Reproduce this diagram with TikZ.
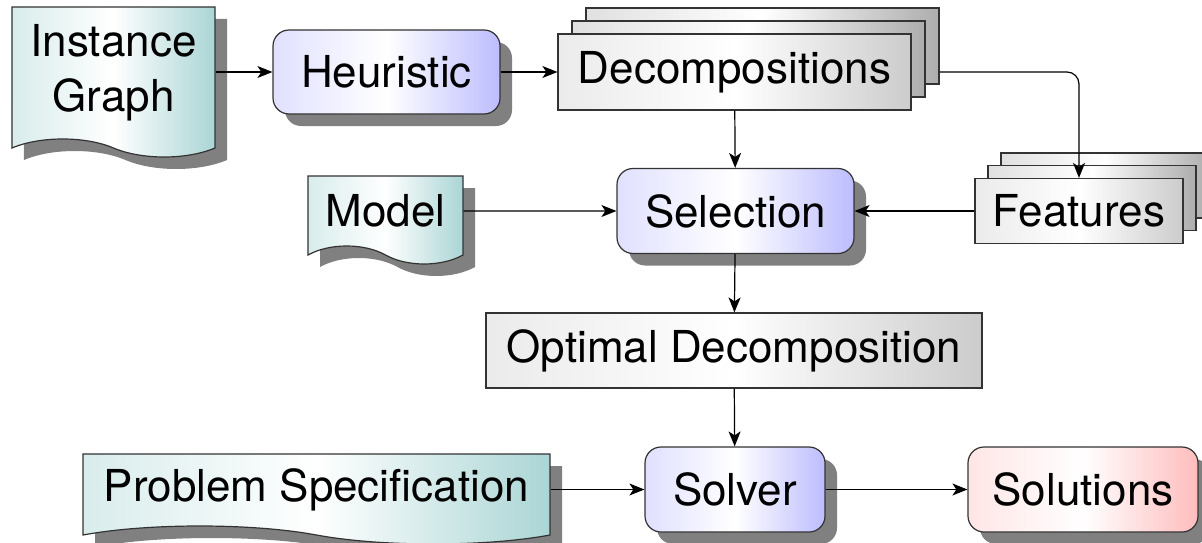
\documentclass[tikz,border=0pt]{standalone}
\usepackage{fontspec}
\setmainfont{TeX Gyre Heros}
\usetikzlibrary{shapes.symbols,shadows,arrows.meta}
\begin{document}
\begin{tikzpicture}[x=1pt,y=-1pt,
  every node/.style={font=\fontsize{44}{55}\selectfont, inner sep=0pt,
    line width=1.2pt, draw=black!80, align=center},
  shadowed/.style={drop shadow={shadow xshift=12pt, shadow yshift=-12pt,
    fill=black!50, opacity=1}},
  procbox/.style={rectangle, rounded corners=16pt, left color=blue!12,
    right color=blue!26, middle color=white, shadowed},
  resultbox/.style={rectangle, rounded corners=16pt, left color=red!10,
    right color=red!26, middle color=white, shadowed},
  databox/.style={rectangle, left color=black!8, right color=black!20,
    middle color=white},
  copybox/.style={rectangle, left color=black!12, right color=black!32,
    middle color=white},
  docbox/.style={tape, tape bend top=none, tape bend bottom=out and in,
    tape bend height=18pt, left color=teal!15, right color=teal!33,
    middle color=white, shadowed},
  flow/.style={draw=black, line width=1.2pt,
    -{Stealth[length=15pt,width=12pt,inset=4pt]}}
]
\useasboundingbox (0,0) rectangle (1202,543);

% input documents
\node[docbox, minimum width=203pt, minimum height=150pt] (inst) at (113.5,73)
  {Instance\\Graph};
\node[docbox, minimum width=155pt, minimum height=88pt] (model) at (385.5,211)
  {Model};
\node[docbox, minimum width=467pt, minimum height=90pt] (spec) at (316.5,490)
  {Problem Specification};

% processing steps
\node[procbox, minimum width=227pt, minimum height=84pt] (heur) at (386.5,72)
  {Heuristic};
\node[procbox, minimum width=237pt, minimum height=85pt] (sel) at (735.5,211)
  {Selection};
\node[procbox, minimum width=180pt, minimum height=85pt] (solver) at (735,489.5)
  {Solver};
\node[resultbox, minimum width=230pt, minimum height=85pt] (sol) at (1083,489.5)
  {Solutions};

% stacked data sets
\node[copybox, minimum width=353pt, minimum height=76pt] (dec3) at (762.5,46) {};
\node[copybox, minimum width=353pt, minimum height=76pt] (dec2) at (748.5,59) {};
\node[databox, minimum width=353pt, minimum height=76pt] (dec) at (734.5,72)
  {Decompositions};

\node[copybox, minimum width=208pt, minimum height=65pt] (feat3) at (1105,185.5) {};
\node[copybox, minimum width=208pt, minimum height=65pt] (feat2) at (1092,198) {};
\node[databox, minimum width=208pt, minimum height=65pt] (feat) at (1079,211)
  {Features};

\node[databox, minimum width=496pt, minimum height=75pt] (opt) at (734,350.5)
  {Optimal Decomposition};

% connectors
\draw[flow] (inst.east |- heur.west) -- (heur.west);
\draw[flow] (heur) -- (dec);
\draw[flow, rounded corners=12pt] (dec3.east |- dec.east) -| (feat.north);
\draw[flow] (dec) -- (sel);
\draw[flow] (model) -- (sel);
\draw[flow] (feat) -- (sel);
\draw[flow] (sel) -- (opt);
\draw[flow] (opt) -- (solver);
\draw[flow] (spec.east |- solver.west) -- (solver.west);
\draw[flow] (solver) -- (sol);
\end{tikzpicture}
\end{document}
